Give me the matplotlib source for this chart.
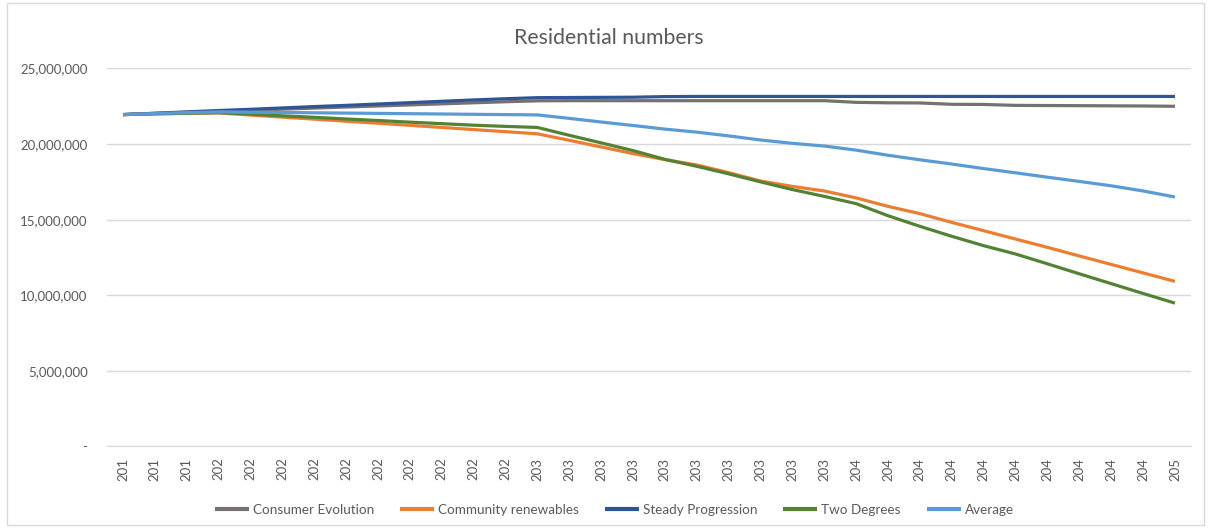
import matplotlib
matplotlib.use("Agg")
import matplotlib.pyplot as plt
from matplotlib.ticker import FuncFormatter
from matplotlib.patches import Rectangle

# Years 2017-2050, labels are cut to three characters as in the source chart
years = [2017, 2018, 2019, 2020, 2021, 2022, 2023, 2024, 2025, 2026, 2027, 2028,
         2029, 2030, 2031, 2032, 2033, 2034, 2035, 2036, 2037, 2038, 2039, 2040,
         2041, 2042, 2043, 2044, 2045, 2046, 2047, 2048, 2049, 2050]
tick_labels = ["201", "201", "201", "202", "202", "202", "202", "202", "202",
               "202", "202", "202", "202", "203", "203", "203", "203", "203",
               "203", "203", "203", "203", "203", "204", "204", "204", "204",
               "204", "204", "204", "204", "204", "204", "205"]

# Values in millions of households
consumer_evolution = [21.95, 22.03, 22.1, 22.17, 22.24, 22.31, 22.38, 22.45, 22.52,
                      22.59, 22.66, 22.73, 22.8, 22.86, 22.87, 22.87, 22.87, 22.87,
                      22.87, 22.87, 22.87, 22.87, 22.87, 22.76, 22.73, 22.72, 22.63,
                      22.62, 22.56, 22.55, 22.54, 22.53, 22.52, 22.5]
community_renewables = [21.95, 22.0, 22.03, 22.06, 21.92, 21.78, 21.65, 21.51, 21.38,
                        21.24, 21.1, 20.96, 20.82, 20.68, 20.25, 19.81, 19.37, 18.97,
                        18.62, 18.11, 17.56, 17.2, 16.9, 16.44, 15.88, 15.4, 14.82,
                        14.27, 13.72, 13.17, 12.6, 12.04, 11.48, 10.92]
steady_progression = [21.95, 22.04, 22.13, 22.22, 22.3, 22.39, 22.48, 22.56, 22.65,
                      22.74, 22.83, 22.92, 23.0, 23.07, 23.08, 23.09, 23.1, 23.14,
                      23.15, 23.15, 23.15, 23.15, 23.15, 23.15, 23.15, 23.15, 23.15,
                      23.15, 23.15, 23.15, 23.15, 23.15, 23.15, 23.15]
two_degrees = [21.95, 22.0, 22.04, 22.08, 21.98, 21.87, 21.77, 21.66, 21.56,
               21.45, 21.35, 21.25, 21.17, 21.1, 20.58, 20.08, 19.57, 18.99,
               18.53, 18.03, 17.5, 16.99, 16.54, 16.06, 15.26, 14.56, 13.9,
               13.28, 12.73, 12.08, 11.42, 10.77, 10.12, 9.48]
average = [21.95, 22.02, 22.08, 22.13, 22.11, 22.09, 22.07, 22.05, 22.03,
           22.01, 21.99, 21.97, 21.95, 21.93, 21.7, 21.46, 21.23, 20.99,
           20.79, 20.54, 20.27, 20.05, 19.87, 19.6, 19.26, 18.96, 18.68,
           18.38, 18.1, 17.81, 17.53, 17.24, 16.9, 16.5]

series = [
    ("Consumer Evolution", consumer_evolution, "#767171"),
    ("Community renewables", community_renewables, "#ED7D31"),
    ("Steady Progression", steady_progression, "#2F5597"),
    ("Two Degrees", two_degrees, "#548235"),
    ("Average", average, "#5B9BD5"),
]

plt.rcParams['font.family'] = ['Lato', 'DejaVu Sans']

fig = plt.figure(figsize=(12.11, 5.28), dpi=100)
ax = fig.add_axes([0.0884, 0.1544, 0.895, 0.7159])

x = list(range(len(years)))
for name, vals, col in series:
    ax.plot(x, [v * 1e6 for v in vals], color=col, lw=2.3, label=name,
            solid_joinstyle='round', solid_capstyle='butt')

ax.set_xlim(-0.5, len(years) - 0.5)
ax.set_ylim(0, 25e6)
ax.set_yticks([0, 5e6, 10e6, 15e6, 20e6, 25e6])
ax.yaxis.set_major_formatter(FuncFormatter(lambda v, p: "-" if v == 0 else f"{v:,.0f}"))
ax.set_xticks(x)
ax.set_xticklabels(tick_labels, rotation=90)

ax.grid(axis='y', color='#D9D9D9', lw=1)
ax.set_axisbelow(True)
for s in ['top', 'right', 'left']:
    ax.spines[s].set_visible(False)
ax.spines['bottom'].set_color('#D9D9D9')
ax.tick_params(axis='both', length=0, labelsize=9.5, colors='#595959')
ax.tick_params(axis='x', pad=8)
ax.tick_params(axis='y', pad=14)

fig.text(0.503, 0.928, "Residential numbers", ha='center', va='center',
         fontsize=15.3, color='#595959')

leg = ax.legend(loc='center', bbox_to_anchor=(0.468, -0.168), ncol=5, frameon=False,
                fontsize=9.7, handlelength=2.5, columnspacing=1.95, handletextpad=0.3)
for t in leg.get_texts():
    t.set_color('#595959')
for h in leg.get_lines():
    h.set_linewidth(3)

fig.patches.append(Rectangle((0.006, 0.006), 0.988, 0.988, transform=fig.transFigure,
                             fill=False, edgecolor='#D9D9D9', lw=1))

fig.savefig("out.png", dpi=100)
